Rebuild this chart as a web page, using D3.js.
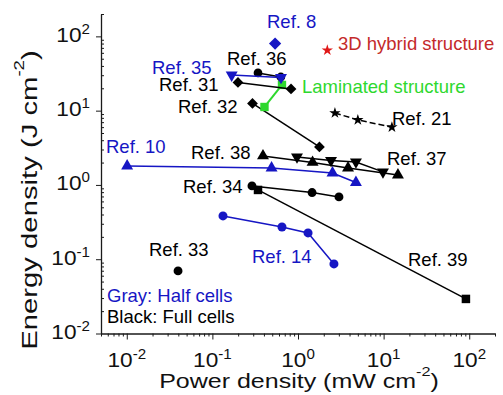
<!DOCTYPE html>
<html><head><meta charset="utf-8">
<script src="https://cdn.jsdelivr.net/npm/d3@7"></script>
<style>
html,body{margin:0;padding:0;background:#fff;}
svg{display:block;font-family:"Liberation Sans",Arial,sans-serif;}
</style></head><body>
<svg id="chart" width="503" height="395"></svg>
<script>
// Ragone plot points: [power density (mW cm^-2), energy density (J cm^-2)]
const ref8 = [[0.54, 80]];
const hybrid3D = [[2.2, 65]];
const ref35 = [[0.168, 30.2], [0.633, 28.0]];
const ref36 = [[0.341, 32.2], [0.63, 28.4]];
const ref31 = [[0.199, 24.0], [0.829, 19.6]];
const laminated = [[0.65, 22.2], [0.406, 11.2]];
const ref32 = [[0.294, 12.5], [1.78, 3.25]];
const ref21 = [[2.70, 9.3], [5.0, 7.5], [12.5, 6.0]];
const ref38 = [[0.39, 2.46], [1.48, 2.01], [3.84, 1.69], [14.7, 1.36]];
const ref37 = [[0.973, 2.38], [2.43, 2.14], [4.75, 2.04], [9.83, 1.50]];
const ref10 = [[0.0101, 1.80], [0.491, 1.69], [2.53, 1.45], [4.75, 1.08]];
const ref34 = [[0.29, 0.97], [1.46, 0.79], [3.01, 0.69]];
const ref39 = [[0.341, 0.856], [91.5, 0.0292]];
const ref14 = [[0.133, 0.383], [0.65, 0.272], [1.31, 0.226], [2.63, 0.0865]];
const ref33 = [[0.0397, 0.0696]];

// decade exponents used for the tick labels
const xTickExps = [-2, -1, 0, 1, 2];
const yTickExps = [-2, -1, 0, 1, 2];

const BLUE = "#1616c4", BLACK = "#000", GREEN = "#2ed82e", RED = "#e01818", RED_TEXT = "#c42a2a";

const svg = d3.select("#chart");
const x = d3.scaleLog().domain([0.005, 200]).range([101, 495]);
const y = d3.scaleLog().domain([0.01, 200]).range([333.5, 14]);

// ---- axes ----
const majorX = xTickExps.map(e => Math.pow(10, e));
const majorY = yTickExps.map(e => Math.pow(10, e));
function minors(domain) {
  const out = [];
  for (let k = -3; k <= 2; k++) for (let m = 2; m <= 9; m++) {
    const v = m * Math.pow(10, k);
    if (v >= domain[0] * 0.999 && v <= domain[1] * 1.001) out.push(v);
  }
  return out;
}
const axisColor = "#1a1a1a";
const gx = svg.append("g").attr("transform", `translate(0,${y.range()[0]})`);
gx.call(d3.axisBottom(x).tickValues(majorX).tickSize(6).tickSizeOuter(0).tickFormat(""));
gx.append("g").call(d3.axisBottom(x).tickValues(minors(x.domain())).tickSize(3).tickSizeOuter(0).tickFormat(""))
  .select(".domain").remove();
const gy = svg.append("g").attr("transform", `translate(${x.range()[0]},0)`);
gy.call(d3.axisLeft(y).tickValues(majorY).tickSize(5).tickSizeOuter(0).tickFormat(""));
gy.append("g").call(d3.axisRight(y).tickValues(minors(y.domain())).tickSize(3).tickSizeOuter(0).tickFormat(""))
  .select(".domain").remove();
svg.selectAll(".domain").attr("stroke", axisColor).attr("stroke-width", 1.3);
svg.selectAll(".tick line").attr("stroke", axisColor).attr("stroke-width", 1);

// text with a raised exponent, optionally stretched horizontally
function powText(parent, opt) {
  const t = parent.append("text")
    .attr("transform", `translate(${opt.x},${opt.y})${opt.rot ? ` rotate(${opt.rot})` : ""} scale(${opt.sx || 1},1)`)
    .attr("text-anchor", opt.anchor || "start")
    .attr("font-size", opt.size).attr("fill", opt.color || "#000");
  t.append("tspan").text(opt.base);
  t.append("tspan").attr("font-size", opt.supSize).attr("dy", -opt.rise).text(opt.sup);
  if (opt.tail) t.append("tspan").attr("dy", opt.rise).text(opt.tail);
  return t;
}

xTickExps.forEach(e => powText(svg, {x: x(Math.pow(10, e)), y: 367, anchor: "middle", size: 21, sx: 1.08,
  base: "10", sup: String(e), supSize: 14, rise: 8, color: "#111"}));
yTickExps.forEach(e => powText(svg, {x: 90, y: y(Math.pow(10, e)) + 5.5, anchor: "end", size: 21, sx: 1.08,
  base: "10", sup: String(e), supSize: 14, rise: 8, color: "#111"}));

powText(svg, {x: 299, y: 388, anchor: "middle", size: 20, sx: 1.25,
  base: "Power density (mW cm", sup: "-2", tail: ")", supSize: 13, rise: 12, color: "#111"});
powText(svg, {x: 37, y: 200, rot: -90, anchor: "middle", size: 22, sx: 1.33,
  base: "Energy density (J cm", sup: "-2", tail: ")", supSize: 14, rise: 13, color: "#111"});

// ---- series ----
const sym = {
  circle: {type: d3.symbolCircle, rot: 0},
  up: {type: d3.symbolTriangle, rot: 0},
  down: {type: d3.symbolTriangle, rot: 180},
  diamond: {type: d3.symbolSquare, rot: 45},
  square: {type: d3.symbolSquare, rot: 0},
  star: {type: d3.symbolStar, rot: 0}
};
const series = [
  {d: ref10, c: BLUE, s: "up", size: 62},
  {d: ref38, c: BLACK, s: "up", size: 62},
  {d: ref37, c: BLACK, s: "down", size: 62},
  {d: ref34, c: BLACK, s: "circle", size: 62},
  {d: ref39, c: BLACK, s: "square", size: 72},
  {d: ref14, c: BLUE, s: "circle", size: 64},
  {d: ref33, c: BLACK, s: "circle", size: 62},
  {d: ref32, c: BLACK, s: "diamond", size: 58},
  {d: laminated, c: GREEN, s: "square", size: 70, lw: 2},
  {d: ref31, c: BLACK, s: "diamond", size: 58},
  {d: ref36, c: BLACK, s: "circle", size: 60},
  {d: ref35, c: BLUE, s: "down", size: 62},
  {d: ref21, c: BLACK, s: "star", size: 40, dash: "6,3"},
  {d: ref8, c: BLUE, s: "diamond", size: 75},
  {d: hybrid3D, c: RED, s: "star", size: 40}
];
const line = d3.line().x(p => x(p[0])).y(p => y(p[1]));
const plot = svg.append("g");
series.forEach(sr => {
  const g = plot.append("g");
  if (sr.d.length > 1) {
    g.append("path").attr("d", line(sr.d)).attr("fill", "none")
      .attr("stroke", sr.c).attr("stroke-width", sr.lw || 1.5)
      .attr("stroke-dasharray", sr.dash || null);
  }
  const sp = d3.symbol().type(sym[sr.s].type).size(sr.size);
  g.selectAll("path.m").data(sr.d).join("path").attr("class", "m")
    .attr("d", sp)
    .attr("transform", p => `translate(${x(p[0])},${y(p[1])}) rotate(${sym[sr.s].rot})`)
    .attr("fill", sr.c);
});

// ---- annotations ----
const labels = [
  {t: "Ref. 8", x: 267, y: 28, c: BLUE},
  {t: "3D hybrid structure", x: 338, y: 50, c: RED_TEXT},
  {t: "Ref. 36", x: 227, y: 65, c: BLACK},
  {t: "Ref. 35", x: 152, y: 74, c: BLUE},
  {t: "Ref. 31", x: 159, y: 91, c: BLACK},
  {t: "Ref. 32", x: 178, y: 113, c: BLACK},
  {t: "Laminated structure", x: 302, y: 93, c: GREEN},
  {t: "Ref. 21", x: 392, y: 125, c: BLACK},
  {t: "Ref. 10", x: 106, y: 153, c: BLUE},
  {t: "Ref. 38", x: 191, y: 158.5, c: BLACK},
  {t: "Ref. 37", x: 387, y: 165, c: BLACK},
  {t: "Ref. 34", x: 183, y: 193, c: BLACK},
  {t: "Ref. 33", x: 149, y: 255.5, c: BLACK},
  {t: "Ref. 14", x: 252, y: 262.5, c: BLUE},
  {t: "Ref. 39", x: 408, y: 266, c: BLACK},
  {t: "Gray: Half cells", x: 107, y: 301.5, c: BLUE},
  {t: "Black: Full cells", x: 107, y: 322.5, c: BLACK}
];
svg.append("g").selectAll("text").data(labels).join("text")
  .attr("x", d => d.x).attr("y", d => d.y)
  .attr("font-size", 18.5).attr("fill", d => d.c)
  .text(d => d.t);
</script>
</body></html>
